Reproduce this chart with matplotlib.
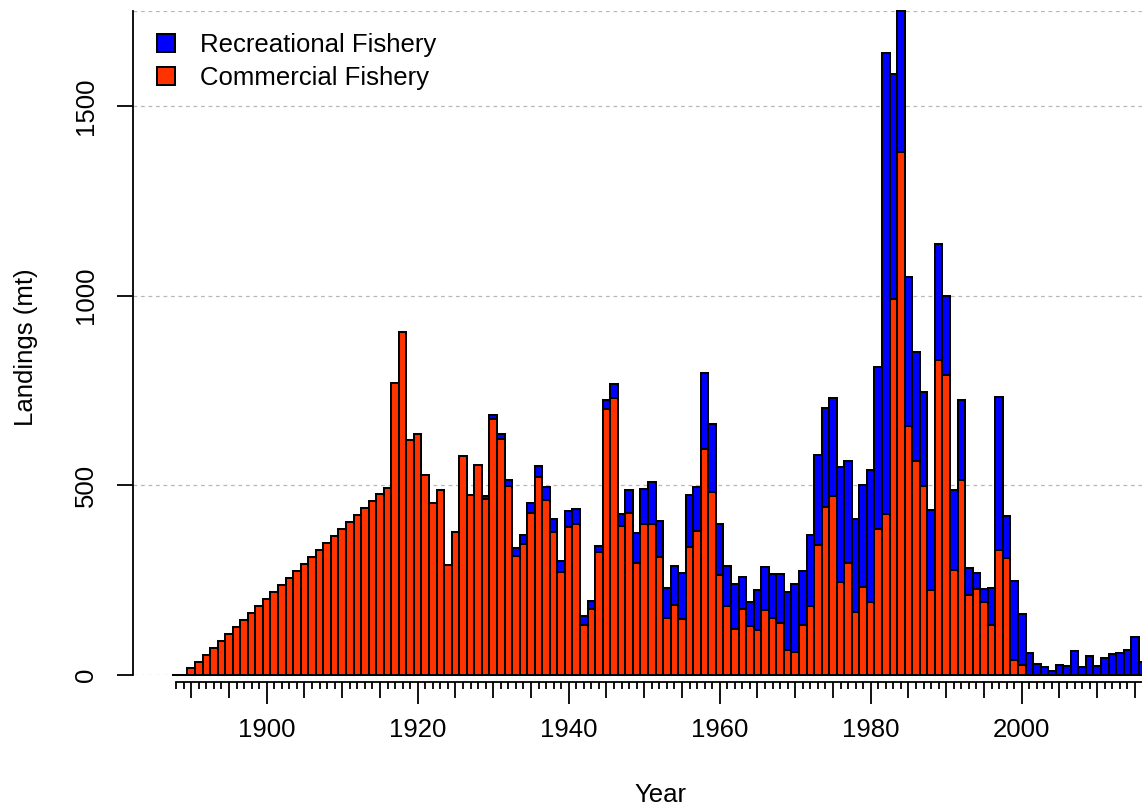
import matplotlib
matplotlib.use("Agg")
import matplotlib.pyplot as plt
from matplotlib.ticker import FixedLocator, FuncFormatter
from matplotlib.patches import Patch
import numpy as np

plt.rcParams['font.family'] = ['Liberation Sans', 'DejaVu Sans']

years = list(range(1888, 2017))

commercial = [
    0, 0,
    18, 35, 54, 72, 90, 109, 127, 146, 164, 182,
    200, 219, 237, 256, 274, 292, 311, 329, 347, 366,
    384, 403, 421, 439, 458, 476, 494, 769, 903, 620,
    636, 528, 454, 487, 290, 376, 576, 475, 554, 463,
    676, 623, 497, 314, 346, 428, 521, 461, 376, 272,
    391, 397, 132, 174, 323, 702, 729, 394, 428, 296,
    397, 399, 312, 149, 185, 148, 338, 380, 595, 481,
    263, 183, 122, 175, 128, 119, 171, 150, 136, 65,
    61, 133, 181, 342, 442, 473, 245, 294, 166, 232,
    193, 385, 425, 990, 1378, 657, 563, 497, 224, 831,
    790, 277, 514, 211, 227, 192, 132, 330, 308, 40,
    26, 0, 0, 0, 0, 0, 0, 0, 0, 0,
    0, 0, 0, 0, 0, 0, 0,
]

recreational = [
    0, 0,
    0, 0, 0, 0, 0, 0, 0, 0, 0, 0,
    0, 0, 0, 0, 0, 0, 0, 0, 0, 0,
    0, 0, 0, 0, 0, 0, 0, 0, 0, 0,
    0, 0, 0, 0, 0, 0, 0, 0, 0, 9,
    10, 13, 16, 20, 24, 26, 30, 35, 35, 29,
    42, 40, 24, 22, 16, 23, 37, 30, 60, 77,
    94, 109, 94, 79, 102, 122, 137, 115, 201, 181,
    135, 103, 119, 84, 64, 105, 114, 115, 130, 155,
    178, 141, 188, 239, 261, 258, 304, 269, 244, 269,
    346, 428, 1214, 594, 372, 391, 287, 249, 212, 304,
    209, 211, 211, 72, 43, 35, 97, 402, 112, 209,
    136, 59, 28, 20, 11, 26, 24, 64, 22, 49,
    25, 45, 55, 59, 66, 101, 34,
]

series_labels = ["Recreational Fishery", "Commercial Fishery"]
series_colors = ["#0000FF", "#FF3300"]
y_ticks = [0, 500, 1000, 1500]
x_label_years = [1900, 1920, 1940, 1960, 1980, 2000]

W, H = 1142, 810
fig = plt.figure(figsize=(W / 100, H / 100), dpi=100)
ax = fig.add_axes([133 / W, 1 - 675 / H, 1 - 133 / W, (675 - 11) / H])

FS = 18.5
lw_edge = 1.45

ax.bar(years, commercial, width=1.0, color=series_colors[1], edgecolor="black",
       linewidth=lw_edge, clip_on=False, zorder=3)
ax.bar(years, recreational, width=1.0, bottom=commercial, color=series_colors[0],
       edgecolor="black", linewidth=lw_edge, clip_on=False, zorder=3)

ax.set_xlim(1882.29, 2015.93)
ax.set_ylim(0, 1750)

# grid
for yv in y_ticks + [1750]:
    ax.axhline(yv, color="#b8b8b8", linestyle=(0, (3, 3)), linewidth=0.9, zorder=1)

# spines
for s in ["top", "right"]:
    ax.spines[s].set_visible(False)
ax.spines["left"].set_linewidth(1.3)
ax.spines["bottom"].set_linewidth(1.3)
ax.spines["bottom"].set_position(("outward", 4.8))
ax.spines["bottom"].set_bounds(1888, 2016)

# y ticks
ax.yaxis.set_major_locator(FixedLocator(y_ticks))
ax.tick_params(axis="y", which="major", length=11.5, width=1.3, pad=14,
               labelsize=FS, labelrotation=90)
for lab in ax.get_yticklabels():
    lab.set_va("center")

# x ticks
ax.xaxis.set_major_locator(FixedLocator(list(range(1890, 2016, 5))))
ax.xaxis.set_minor_locator(FixedLocator(years))
ax.xaxis.set_major_formatter(FuncFormatter(lambda v, p: f"{int(round(v))}" if int(round(v)) in x_label_years else ""))
ax.tick_params(axis="x", which="major", length=11.5, width=1.3, pad=15, labelsize=FS)
ax.tick_params(axis="x", which="minor", length=5, width=1.3)
for t, loc in zip(ax.xaxis.get_major_ticks(), ax.xaxis.get_majorticklocs()):
    if int(round(loc)) in x_label_years:
        t.tick1line.set_markersize(16)

ax.set_xlabel("Year", fontsize=FS)
ax.set_ylabel("Landings (mt)", fontsize=FS)
ax.xaxis.set_label_coords((660 - 133) / (W - 133), (675 - 783) / 664)
ax.xaxis.label.set_va("top")
ax.yaxis.set_label_coords((38 - 133) / (W - 133), (675 - 347) / 664)

handles = [Patch(facecolor=c, edgecolor="black", linewidth=lw_edge) for c in series_colors]
fig.legend(handles, series_labels, loc="upper left", bbox_to_anchor=(157 / W, 1 - 33 / H),
           frameon=False, fontsize=FS, borderpad=0, borderaxespad=0,
           handlelength=0.7, handleheight=0.7, handletextpad=0.97, labelspacing=0.36)

fig.savefig("out.png", dpi=100)
